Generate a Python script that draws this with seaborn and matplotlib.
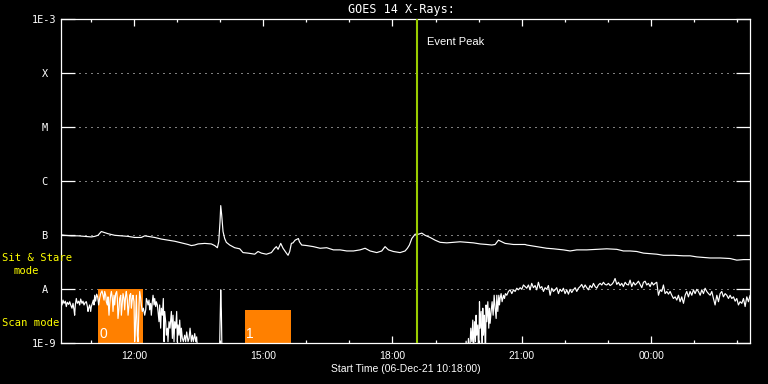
import numpy as np
import pandas as pd
import matplotlib
matplotlib.use("Agg")
import matplotlib.pyplot as plt
import seaborn as sns

# ---------------- data ----------------
start_hour = 10.3          # 06-Dec-21 10:18:00
end_hour = 26.3            # 02:18 next day
event_hour = 18.57         # event peak

level_values = [1e-9, 1e-8, 1e-7, 1e-6, 1e-5, 1e-4, 1e-3]
level_labels = ["1E-9", "A", "B", "C", "M", "X", "1E-3"]

xtick_hours = [12, 15, 18, 21, 24]
xtick_labels = ["12:00", "15:00", "18:00", "21:00", "00:00"]
xminor_hours = list(range(11, 27))

scan_starts = [11.17, 14.58]
scan_ends = [12.21, 15.64]
scan_tops = [1.0e-8, 4.1e-9]
scan_labels = ["0", "1"]

# long channel (minutes after start, log10 flux)
long_min = [0.2, 5.8, 15.1, 24.4, 33.6, 42.9, 47.6, 52.2, 56.8, 61.5,
            66.1, 75.4, 84.7, 94.0, 103.2, 112.5, 117.2, 121.8, 131.1, 140.4,
            149.6, 158.9, 168.2, 177.5, 182.1, 186.8, 191.4, 200.7, 209.9, 214.6,
            218.3, 220.2, 222.0, 223.0, 224.3, 226.2, 228.5, 230.8, 235.5, 242.4,
            249.4, 254.0, 261.0, 270.3, 274.9, 279.6, 286.5, 293.5, 298.1, 300.4,
            302.8, 306.5, 309.7, 314.4, 316.7, 319.0, 321.3, 323.6,
            326.5, 331.1, 332.5, 335.7, 342.7, 352.0, 361.3, 370.5, 379.8, 389.1,
            398.4, 407.7, 416.9, 423.9, 430.9, 440.1, 447.1, 451.7, 456.4, 463.3,
            472.6, 479.6, 482.8, 485.6, 488.9, 493.5, 498.1, 502.8, 507.4, 514.4,
            521.3, 528.3, 537.6, 546.9, 556.1, 565.4, 574.7, 584.0, 593.3, 600.2,
            604.9, 609.5, 614.1, 618.8, 630.4, 639.7, 646.6,
            648.9, 658.2, 667.4, 676.7, 686.0, 699.9, 709.2, 718.5, 732.4, 746.3,
            760.2, 774.2, 783.4, 792.7, 802.0, 811.3, 820.6, 829.8, 839.1, 853.0,
            867.0, 876.2, 885.5, 894.8, 904.1, 918.0, 931.9, 941.2, 950.5, 959.8]
long_log = [-6.99, -7.00, -7.01, -7.01, -7.02, -7.03, -7.02, -7.00, -6.93, -6.95,
            -6.97, -7.00, -7.01, -7.02, -7.04, -7.04, -7.01, -7.02, -7.04, -7.07,
            -7.09, -7.11, -7.14, -7.17, -7.19, -7.18, -7.16, -7.15, -7.16, -7.19,
            -7.23, -7.12, -6.75, -6.45, -6.62, -6.93, -7.06, -7.13, -7.18, -7.23,
            -7.25, -7.32, -7.33, -7.35, -7.30, -7.33, -7.35, -7.32, -7.24, -7.21,
            -7.26, -7.15, -7.24, -7.33, -7.37, -7.30, -7.15, -7.14,
            -7.09, -7.06, -7.12, -7.18, -7.19, -7.21, -7.24, -7.23, -7.27, -7.27,
            -7.29, -7.29, -7.27, -7.24, -7.29, -7.32, -7.29, -7.21, -7.27, -7.30,
            -7.32, -7.29, -7.24, -7.18, -7.06, -6.98, -6.98, -6.96, -7.00, -7.04,
            -7.09, -7.13, -7.14, -7.13, -7.12, -7.13, -7.14, -7.16, -7.17, -7.18,
            -7.17, -7.09, -7.12, -7.15, -7.17, -7.17, -7.17,
            -7.18, -7.20, -7.22, -7.24, -7.25, -7.27, -7.29, -7.27, -7.27, -7.26,
            -7.25, -7.26, -7.29, -7.29, -7.30, -7.33, -7.34, -7.35, -7.37, -7.37,
            -7.38, -7.38, -7.40, -7.41, -7.42, -7.42, -7.43, -7.46, -7.45, -7.45]

# short channel, morning part
short_min_a = [0.2, 2.1, 3.5, 4.9, 6.7, 8.1, 9.5, 11.4, 12.8, 14.2,
               16.0, 17.4, 18.8, 19.7, 20.6, 22.0, 23.4, 25.3, 26.7, 28.1,
               29.9, 31.3, 32.7, 34.6, 36.0, 37.4, 38.3, 39.2, 40.6, 42.0,
               42.9, 44.3, 45.7, 46.6, 47.6, 48.9, 50.3, 51.7, 53.1, 54.5,
               55.9, 57.8, 59.2, 60.6, 61.5, 62.9, 63.8, 65.2, 66.1, 67.5,
               68.4, 69.8, 70.8, 72.2, 73.1, 74.5, 75.4, 76.8, 78.2, 79.1,
               80.0, 81.4, 82.4, 83.8, 84.7, 86.1, 87.0, 88.4, 89.3, 90.7,
               91.6, 93.0, 94.0, 95.4, 96.3, 97.7, 98.6, 100.0, 100.9, 102.3,
               103.2, 104.2, 105.6, 106.9, 107.9, 109.3, 110.2, 111.6, 112.5, 113.9,
               115.3, 117.2, 118.6, 119.5, 120.9, 121.8, 123.2, 124.1, 125.5, 126.4,
               127.8, 128.8, 130.2, 131.1, 132.5, 133.4, 134.8, 135.7, 137.1, 138.0,
               139.4, 140.4, 141.8, 143.1, 144.1, 145.0, 146.4, 147.3, 148.7, 149.6,
               151.0, 152.4, 154.3, 155.7, 156.6, 158.0, 158.9, 160.3, 161.7, 162.6,
               163.6, 164.9, 165.9, 167.3, 168.2, 169.6, 171.0, 172.8, 174.2, 175.6,
               177.5, 178.9, 180.3, 182.1, 183.5, 184.9, 186.8, 188.2, 189.5, 191.4]
short_log_a = [-8.23, -8.29, -8.20, -8.26, -8.22, -8.32, -8.24, -8.28, -8.23, -8.29,
               -8.35, -8.26, -8.38, -8.48, -8.29, -8.17, -8.26, -8.22, -8.29, -8.18,
               -8.26, -8.22, -8.29, -8.24, -8.23, -8.32, -8.41, -8.35, -8.29, -8.41,
               -8.32, -8.26, -8.20, -8.29, -8.11, -8.22, -8.09, -8.14, -8.29, -8.17,
               -8.08, -8.03, -8.11, -8.20, -8.04, -8.11, -8.23, -8.29, -8.14, -8.48,
               -8.29, -8.11, -8.04, -8.17, -8.41, -8.11, -8.29, -8.08, -8.04, -8.17,
               -8.54, -8.35, -8.17, -8.11, -8.48, -8.23, -8.08, -8.17, -8.38, -8.11,
               -8.04, -8.20, -8.48, -8.29, -8.11, -8.08, -8.35, -8.17, -8.11, -8.23,
               -8.97, -8.72, -8.11, -8.85, -8.97, -8.29, -8.04, -8.17, -8.29, -8.41,
               -8.35, -8.48, -8.38, -8.17, -8.23, -8.29, -8.20, -8.38, -8.26, -8.48,
               -8.23, -8.11, -8.29, -8.17, -8.32, -8.23, -8.29, -8.41, -8.60, -8.29,
               -8.72, -8.35, -8.48, -8.17, -8.97, -8.41, -8.60, -8.85, -8.72, -8.97,
               -8.60, -8.72, -8.41, -8.91, -8.48, -8.97, -8.60, -8.72, -8.41, -8.97,
               -8.66, -8.85, -8.57, -8.97, -8.72, -8.91, -8.97, -8.85, -8.97, -8.79,
               -8.97, -8.91, -8.72, -8.97, -8.85, -8.97, -8.82, -8.97, -8.88, -9.30]

# short channel, isolated spike near 14:00
short_min_b = [221.1, 222.0, 223.0, 223.9, 224.8]
short_log_b = [-9.30, -8.72, -8.01, -8.41, -9.30]

# short channel, recovery after 19:40
short_min_c = [563.1, 564.5, 566.3, 567.7, 569.1, 571.0, 572.4, 573.8, 574.7, 576.1,
               577.5, 578.4, 579.3, 580.7, 582.1, 583.1, 584.0, 585.4, 586.8, 587.7,
               588.6, 590.0, 591.4, 592.3, 593.3, 594.7, 596.0, 597.0, 597.9, 599.3,
               600.7, 602.1, 603.5, 604.9, 606.3, 607.2, 608.6, 610.0, 610.9, 611.8,
               613.2, 614.6, 616.5, 617.9, 619.2, 621.1, 623.4, 625.7, 628.1, 630.4,
               632.7, 635.0, 637.3, 639.7, 642.0, 644.3, 646.6]
short_log_c = [-9.30, -8.96, -9.30, -8.91, -9.30, -8.72, -8.97, -8.57, -9.30, -8.60,
               -8.97, -8.48, -8.85, -8.66, -9.30, -8.23, -8.72, -8.41, -9.30, -8.35,
               -8.85, -8.48, -9.30, -8.29, -8.60, -8.23, -8.72, -8.35, -8.63, -8.41,
               -8.23, -8.48, -8.11, -8.35, -8.54, -8.11, -8.41, -8.11, -8.29, -8.17,
               -8.08, -8.23, -8.11, -8.17, -8.08, -8.11, -8.04, -8.01, -8.08, -8.01,
               -8.04, -7.98, -8.01, -7.97, -8.00, -7.92, -7.95]

# short channel, evening / night
short_min_d = [648.9, 651.2, 653.5, 655.8, 658.2, 660.5, 662.8, 665.1, 667.4, 669.8,
               672.1, 674.4, 676.7, 679.0, 681.4, 683.7, 686.0, 688.3, 690.6, 693.0,
               695.3, 697.6, 699.9, 702.2, 704.6, 706.9, 709.2, 711.5, 713.8, 716.2,
               718.5, 720.8, 723.1, 725.4, 727.8, 730.1, 732.4, 734.7, 737.0, 739.4,
               741.7, 744.0, 746.3, 748.6, 751.0, 753.3, 755.6, 757.9, 760.2, 762.6,
               764.9, 767.2, 769.5, 771.8, 774.2, 776.5, 778.8, 781.1, 783.4, 785.8,
               788.1, 790.4, 792.7, 795.0, 797.4, 799.7, 802.0, 804.3, 806.6, 809.0,
               811.3, 813.6, 815.9, 818.2, 820.6, 822.9, 825.2, 827.5, 829.8, 832.2,
               834.5, 836.8, 839.1, 841.4, 843.8, 846.1, 848.4, 850.7, 853.0, 855.4,
               857.7, 860.0, 862.3, 864.6, 867.0, 869.3, 871.6, 873.9, 876.2, 878.6,
               880.9, 883.2, 885.5, 887.8, 890.2, 892.5, 894.8, 897.1, 899.4, 901.8,
               904.1, 906.4, 908.7, 911.0, 913.4, 915.7, 918.0, 920.3, 922.6, 925.0,
               927.3, 929.6, 931.9, 934.2, 936.6, 938.9, 941.2, 943.5, 945.8, 948.2,
               950.5, 952.8, 955.1, 957.4, 959.8]
short_log_d = [-7.98, -7.92, -8.01, -7.89, -7.97, -7.93, -8.01, -7.87, -7.98, -7.95,
               -8.04, -7.97, -8.00, -7.93, -8.11, -7.98, -8.04, -8.01, -7.97, -8.08,
               -8.00, -8.04, -7.98, -8.08, -8.01, -8.09, -8.00, -8.06, -8.01, -7.97,
               -8.04, -7.98, -7.95, -7.91, -7.98, -7.92, -7.97, -8.01, -7.93, -7.97,
               -7.89, -7.95, -7.98, -7.92, -7.89, -7.92, -7.87, -7.91, -7.92, -7.89,
               -7.93, -7.91, -7.87, -7.80, -7.91, -7.87, -7.93, -7.89, -7.95, -7.87,
               -7.91, -7.92, -7.83, -7.95, -7.87, -7.92, -7.89, -7.85, -7.91, -7.97,
               -7.87, -7.85, -7.92, -7.89, -7.95, -7.87, -7.92, -7.89, -7.87, -8.11,
               -8.01, -8.04, -7.92, -8.08, -8.04, -8.09, -8.04, -8.11, -8.17, -8.14,
               -8.20, -8.11, -8.23, -8.14, -8.26, -8.11, -8.04, -8.14, -8.04, -8.11,
               -8.01, -8.08, -8.00, -8.04, -8.11, -8.01, -8.08, -7.98, -8.04, -8.08,
               -8.11, -8.04, -8.17, -8.29, -8.11, -8.23, -8.08, -8.04, -8.14, -8.08,
               -8.11, -8.17, -8.11, -8.17, -8.14, -8.22, -8.17, -8.29, -8.23, -8.26,
               -8.17, -8.32, -8.14, -8.23, -8.11]

# ---------------- style ----------------
W, H = 768, 384
ORANGE = "#ff8000"
GREEN = "#99cc00"
YELLOW = "#ffff00"
FS = 7.5
MONO = ["DejaVu Sans Mono", "DejaVu Sans"]

sns.set_theme(style="dark", rc={
    "axes.facecolor": "black", "figure.facecolor": "black",
    "axes.edgecolor": "white", "text.color": "white",
    "axes.labelcolor": "white", "xtick.color": "white", "ytick.color": "white",
    "axes.grid": False,
})
plt.rcParams["font.family"] = ["Liberation Sans", "DejaVu Sans"]

fig = plt.figure(figsize=(W / 100, H / 100), dpi=100)
fig.patch.set_facecolor("black")
ax_l, ax_r, ax_t, ax_b = 60.5, 750.3, 19.3, 343.3
ax = fig.add_axes([ax_l / W, 1 - ax_b / H, (ax_r - ax_l) / W, (ax_b - ax_t) / H])
ax.set_facecolor("black")

long_df = pd.DataFrame({"hour": start_hour + np.array(long_min) / 60.0,
                        "flux": 10.0 ** np.array(long_log)})
short_df = pd.DataFrame({
    "hour": start_hour + np.array(short_min_a + short_min_b + short_min_c + short_min_d) / 60.0,
    "flux": 10.0 ** np.array(short_log_a + short_log_b + short_log_c + short_log_d)})

# scan-mode boxes
for s, e, top, lab in zip(scan_starts, scan_ends, scan_tops, scan_labels):
    ax.fill_between([s, e], [1e-9, 1e-9], [top, top], color=ORANGE, lw=0, zorder=1)
    ax.annotate(lab, xy=(s, 1e-9), xytext=(1.0, 3.8), textcoords="offset points",
                ha="left", va="baseline", color="white", fontsize=10, zorder=4)

sns.lineplot(data=long_df, x="hour", y="flux", ax=ax, color="white", lw=0.85,
             estimator=None, sort=False, zorder=2)
sns.lineplot(data=short_df, x="hour", y="flux", ax=ax, color="white", lw=0.85,
             estimator=None, sort=False, zorder=2)

ax.axvline(event_hour, color=GREEN, lw=1.5, zorder=3)
ax.annotate("Event Peak", xy=(event_hour, 1), xycoords=("data", "axes fraction"),
            xytext=(7, -16.7), textcoords="offset points", ha="left", va="center",
            color="white", fontsize=8)

ax.set_yscale("log")
ax.set_ylim(1e-9, 1e-3)
ax.set_xlim(start_hour, end_hour)

ax.set_yticks(level_values)
ax.set_yticklabels(level_labels)
ax.yaxis.set_minor_locator(matplotlib.ticker.NullLocator())
ax.set_xticks(xtick_hours)
ax.set_xticklabels(xtick_labels)
ax.set_xticks(xminor_hours, minor=True)

ax.tick_params(axis="y", which="major", direction="in", length=10, width=0.9,
               left=True, right=True, pad=11.5, labelsize=FS, colors="white")
for lab in ax.get_yticklabels():
    lab.set_horizontalalignment("center")
    lab.set_family(MONO)
    lab.set_fontsize(7.4)
ax.tick_params(axis="x", which="major", direction="in", length=4.8, width=0.9,
               top=True, bottom=True, pad=5.5, labelsize=FS, colors="white")
ax.tick_params(axis="x", which="minor", direction="in", length=2.3, width=0.9,
               top=True, bottom=True, colors="white")

ax.grid(axis="y", which="major", color="white", linestyle=(0, (1, 5)), linewidth=0.72)
ax.grid(axis="x", visible=False)

for sp in ax.spines.values():
    sp.set_color("white")
    sp.set_linewidth(0.9)
    sp.set_visible(True)

title = ax.set_title("GOES 14 X-Rays:", color="white", fontsize=8.5, pad=4.5, family=MONO)
title.set_x((401.7 - ax_l) / (ax_r - ax_l))
ax.set_xlabel("Start Time (06-Dec-21 10:18:00)", color="white", fontsize=FS, labelpad=2.5)
ax.set_ylabel("")

fig.text(2 / W, 1 - 258 / H, "Sit & Stare", color=YELLOW, fontsize=7.6, family=MONO,
         ha="left", va="center")
fig.text(13 / W, 1 - 271 / H, "mode", color=YELLOW, fontsize=7.6, family=MONO,
         ha="left", va="center")
fig.text(2 / W, 1 - 323 / H, "Scan mode", color=YELLOW, fontsize=7.6, family=MONO,
         ha="left", va="center")

fig.savefig("out.png", dpi=100, facecolor="black")
